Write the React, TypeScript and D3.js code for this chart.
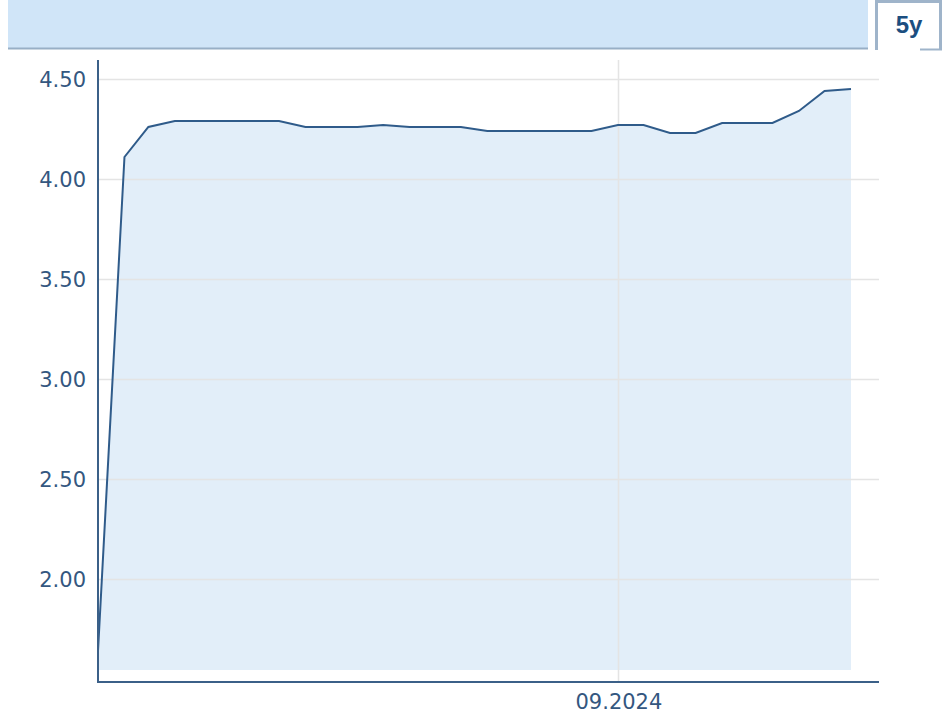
import React from "react";
import * as d3 from "d3";

// monthly values, Jan 2023 .. Jun 2025
const months = [
  "2023-01", "2023-02", "2023-03", "2023-04", "2023-05", "2023-06",
  "2023-07", "2023-08", "2023-09", "2023-10", "2023-11", "2023-12",
  "2024-01", "2024-02", "2024-03", "2024-04", "2024-05", "2024-06",
  "2024-07", "2024-08", "2024-09", "2024-10", "2024-11", "2024-12",
  "2025-01", "2025-02", "2025-03", "2025-04", "2025-05", "2025-06",
];
const values = [
  1.64, 4.11, 4.26, 4.29, 4.29, 4.29, 4.29, 4.29, 4.26, 4.26,
  4.26, 4.27, 4.26, 4.26, 4.26, 4.24, 4.24, 4.24, 4.24, 4.24,
  4.27, 4.27, 4.23, 4.23, 4.28, 4.28, 4.28, 4.34, 4.44, 4.45,
];
const yTicks = [2.0, 2.5, 3.0, 3.5, 4.0, 4.5];
const xTicks = ["2024-09"];
const rangeLabel = "5y";

const W = 950;
const H = 719;
const left = 98;
const right = 879;
const dataRight = 851;
const top = 60;
const plotBottom = 670;
const axisY = 682;

const textColor = "#34577f";
const axisColor = "#3b6088";

const parse = d3.timeParse("%Y-%m");

export default function App() {
  const data = months.map((m, i) => ({ date: parse(m) as Date, value: values[i] }));

  const x = d3
    .scaleTime()
    .domain(d3.extent(data, (d) => d.date) as [Date, Date])
    .range([left, dataRight]);

  const y = d3.scaleLinear().domain([1.545, 4.595]).range([plotBottom, top]);

  const line = d3
    .line<{ date: Date; value: number }>()
    .x((d) => x(d.date))
    .y((d) => y(d.value));

  const area = d3
    .area<{ date: Date; value: number }>()
    .x((d) => x(d.date))
    .y0(plotBottom)
    .y1((d) => y(d.value));

  const fmt = d3.timeFormat("%m.%Y");

  return (
    <svg
      width={W}
      height={H}
      style={{ position: "absolute", left: 0, top: 0 }}
      fontFamily="DejaVu Sans, sans-serif"
    >
      {/* header bar */}
      <rect x={8} y={0} width={860} height={48} fill="#d0e5f8" />
      <line x1={8} x2={868} y1={48.5} y2={48.5} stroke="#98afc6" strokeWidth={2} />
      <path
        d="M876.5,50 V1.5 H940.5 V50"
        fill="#fff"
        stroke="#9fb4ca"
        strokeWidth={3}
      />
      <line x1={920} x2={942} y1={49.5} y2={49.5} stroke="#9fb4ca" strokeWidth={2} />
      <text
        x={909}
        y={33}
        textAnchor="middle"
        fontFamily="Liberation Sans, Arial, sans-serif"
        fontWeight="bold"
        fontSize={24}
        fill="#1b4e80"
      >
        {rangeLabel}
      </text>

      {/* area */}
      <path d={area(data) ?? ""} fill="#e2eef9" />

      {/* grid */}
      {yTicks.map((t) => (
        <line
          key={t}
          x1={left}
          x2={right}
          y1={Math.round(y(t)) + 0.5}
          y2={Math.round(y(t)) + 0.5}
          stroke="#e4e4e4"
          strokeWidth={1.5}
        />
      ))}
      {xTicks.map((t) => {
        const xx = Math.round(x(parse(t) as Date)) + 0.5;
        return (
          <line key={t} x1={xx} x2={xx} y1={top} y2={axisY} stroke="#e4e4e4" strokeWidth={1.5} />
        );
      })}

      <path d={line(data) ?? ""} fill="none" stroke="#2f5b8a" strokeWidth={2} />

      {/* axes */}
      <line x1={left} x2={left} y1={top} y2={axisY + 1} stroke={axisColor} strokeWidth={2} />
      <line x1={left - 1} x2={right} y1={axisY} y2={axisY} stroke={axisColor} strokeWidth={2} />

      {yTicks.map((t) => (
        <text
          key={t}
          x={86}
          y={y(t)}
          dy="0.36em"
          textAnchor="end"
          fontSize={21}
          fill={textColor}
        >
          {d3.format(".2f")(t)}
        </text>
      ))}
      {xTicks.map((t) => (
        <text
          key={t}
          x={x(parse(t) as Date) + 1}
          y={709}
          textAnchor="middle"
          fontSize={21}
          fill={textColor}
        >
          {fmt(parse(t) as Date)}
        </text>
      ))}
    </svg>
  );
}
